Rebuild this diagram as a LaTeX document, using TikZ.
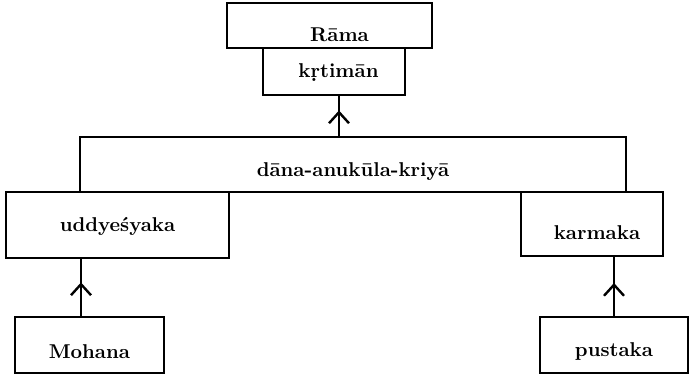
\documentclass[tikz,border=0pt]{standalone}
\usetikzlibrary{arrows.meta,decorations.markings}
\tikzset{
	box/.style={draw, line width=1.2pt, font=\bfseries, inner sep=0pt, text depth=0pt},
	midarr/.style={line width=1.2pt, postaction={decorate},
		decoration={markings, mark=at position #1 with {\arrow{Straight Barb[length=5.5pt,width=10pt,line width=1.2pt]}}}}
}
\begin{document}
\begin{tikzpicture}[x=0.5pt,y=-0.5pt]
	\useasboundingbox (0,0) rectangle (689,377);
	
	%agent on top
	\node[box, minimum width=102.5pt, minimum height=22.5pt, text height=16.2pt] (rama) at (329.5,25.5){\hspace{10pt}R\={a}ma};
	\node[box, minimum width=71pt, minimum height=23.5pt, text height=5.5pt] (krti) at (334,71.5){\hspace{4.5pt}k\d{r}tim\={a}n};
	
	%verb
	\node[box, minimum width=273pt, minimum height=27.5pt, text height=11.5pt] (dana) at (353,164.5){d\={a}na-anuk\={u}la-kriy\={a}\hspace{13pt}};
	
	%karakas
	\node[box, minimum width=111.5pt, minimum height=33pt, text height=6pt] (uddesh) at (117.5,225){uddye\'{s}yaka\hspace{17.5pt}};
	\node[box, minimum width=71pt, minimum height=32pt, text height=15pt] (karma) at (592,224){\hspace{5pt}karmaka};
	
	%fillers
	\node[box, minimum width=74.5pt, minimum height=28pt, text height=13pt] (mohana) at (89.5,345){Mohana};
	\node[box, minimum width=74pt, minimum height=28pt, text height=11pt] (pustaka) at (614,345){pustaka};
	
	%arrows
	\draw[midarr=0.64] ([xshift=2.5pt]krti.south |- dana.north) -- ([xshift=2.5pt]krti.south);
	\draw[midarr=0.59] ([xshift=-4.25pt]mohana.north) -- ([xshift=-4.25pt]mohana.north |- uddesh.south);
	\draw[midarr=0.56] (pustaka.north) -- (pustaka.north |- karma.south);
\end{tikzpicture}
\end{document}
